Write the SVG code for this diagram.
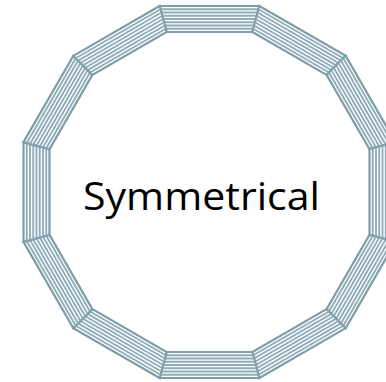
<svg xmlns="http://www.w3.org/2000/svg" xmlns:xlink="http://www.w3.org/1999/xlink" width="386" height="382" viewBox="0 0 386 382">
  <style>
    .band { fill: #ffffff; stroke: #7f9ea9; stroke-width: 2.2; stroke-linejoin: miter; }
    .stripe { stroke: #8fadb8; stroke-width: 1.9; fill: none; }
    .label { font-family: "Open Sans", "Liberation Sans", sans-serif; font-size: 38px; fill: #000000; }
  </style>
  <defs>
    <!-- top segment of the dodecagon, centre (209.5,192), apothem 186 outer / 160 inner -->
    <g id="seg">
      <polygon class="band" points="159.66,6 259.34,6 252.37,32 166.63,32"/>
      <line class="stripe" x1="160.53" y1="9.25" x2="258.47" y2="9.25"/>
      <line class="stripe" x1="161.40" y1="12.5" x2="257.60" y2="12.5"/>
      <line class="stripe" x1="162.27" y1="15.75" x2="256.73" y2="15.75"/>
      <line class="stripe" x1="163.14" y1="19" x2="255.86" y2="19"/>
      <line class="stripe" x1="164.01" y1="22.25" x2="254.99" y2="22.25"/>
      <line class="stripe" x1="164.88" y1="25.5" x2="254.12" y2="25.5"/>
      <line class="stripe" x1="165.75" y1="28.75" x2="253.25" y2="28.75"/>
    </g>
  </defs>
  <g id="ring">
    <use id="seg0" xlink:href="#seg"/>
    <use id="seg1" xlink:href="#seg" transform="rotate(30 209.5 192)"/>
    <use id="seg2" xlink:href="#seg" transform="rotate(60 209.5 192)"/>
    <use id="seg3" xlink:href="#seg" transform="rotate(90 209.5 192)"/>
    <use id="seg4" xlink:href="#seg" transform="rotate(120 209.5 192)"/>
    <use id="seg5" xlink:href="#seg" transform="rotate(150 209.5 192)"/>
    <use id="seg6" xlink:href="#seg" transform="rotate(180 209.5 192)"/>
    <use id="seg7" xlink:href="#seg" transform="rotate(210 209.5 192)"/>
    <use id="seg8" xlink:href="#seg" transform="rotate(240 209.5 192)"/>
    <use id="seg9" xlink:href="#seg" transform="rotate(270 209.5 192)"/>
    <use id="seg10" xlink:href="#seg" transform="rotate(300 209.5 192)"/>
    <use id="seg11" xlink:href="#seg" transform="rotate(330 209.5 192)"/>
  </g>
  <g id="title">
    <text class="label" x="83" y="210" textLength="237" lengthAdjust="spacingAndGlyphs">Symmetrical</text>
  </g>
</svg>
